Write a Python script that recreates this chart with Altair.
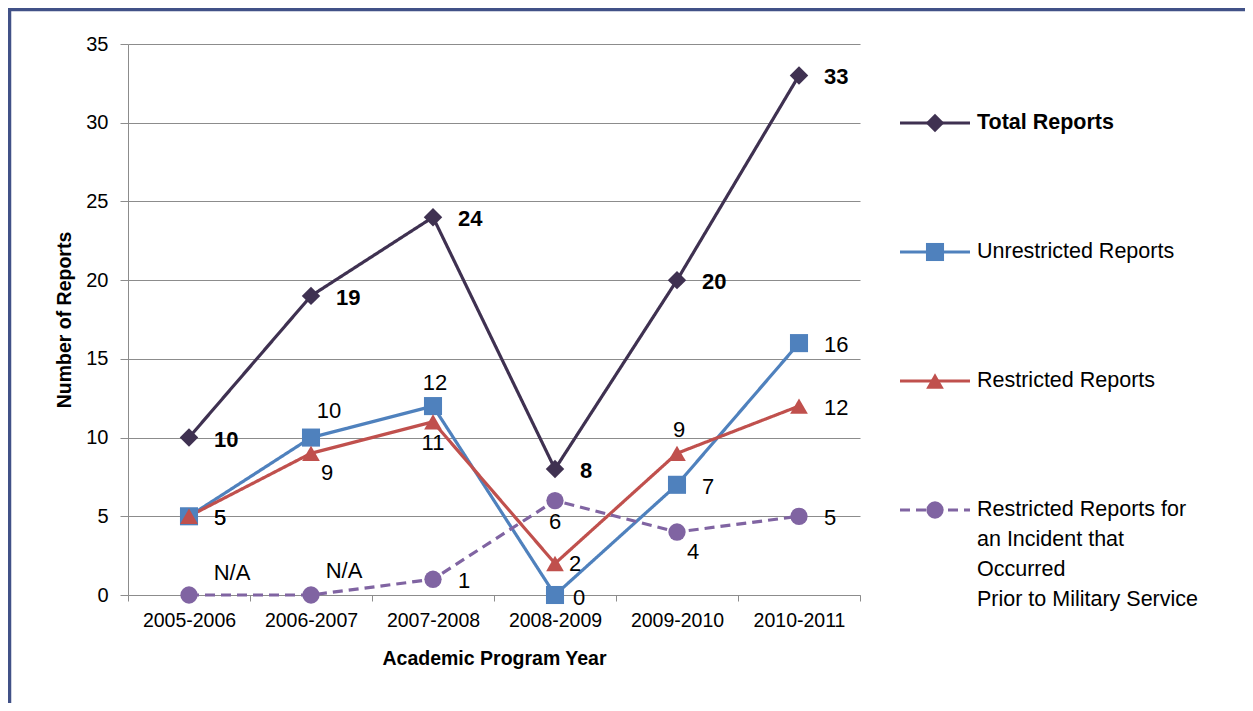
import altair as alt
import pandas as pd

# ---------------- data ----------------
years = ["2005-2006", "2006-2007", "2007-2008", "2008-2009", "2009-2010", "2010-2011"]

series_keys = ["total", "unres", "restr", "prior"]
legend_labels = [
    "Total Reports",
    "Unrestricted Reports",
    "Restricted Reports",
    "Restricted Reports for\nan Incident that\nOccurred\nPrior to Military Service",
]

total_reports = [10, 19, 24, 8, 20, 33]
unrestricted_reports = [5, 10, 12, 0, 7, 16]
restricted_reports = [5, 9, 11, 2, 9, 12]
prior_service_reports = [0, 0, 1, 6, 4, 5]
prior_service_labels = ["N/A", "N/A", "1", "6", "4", "5"]

# label placement names (style, not data)
total_place = ["r", "r", "r", "r", "r", "r"]
unres_place = ["r", "ar", "a", "rb", "r", "r"]
restr_place = ["r", "br", "b", "rt", "a", "r"]
prior_place = ["na1", "na2", "r", "b", "br", "r"]

# ---------------- style ----------------
FONT = "Liberation Sans, Arial, sans-serif"
colors = ["#3F3151", "#4F81BD", "#C0504D", "#8064A2"]
shapes = ["diamond", "square", "triangle-up", "circle"]
sizes = [340, 300, 380, 420]
dashes = [[1, 0], [1, 0], [1, 0], [10, 6]]
FRAME = "#415187"
GRID = "#8C8C8C"
LABEL_SIZE = 22

PLACE = {
    "r": ("left", 25, 2),
    "rt": ("left", 14, 0),
    "rb": ("left", 18, 3),
    "a": ("center", 2, -23),
    "ar": ("center", 18, -27),
    "b": ("center", 0, 21),
    "br": ("center", 16, 20),
    "na1": ("center", 43, -22),
    "na2": ("center", 33, -24),
}

rows = []
for key, vals, labs, places in [
    ("total", total_reports, [str(v) for v in total_reports], total_place),
    ("unres", unrestricted_reports, [str(v) for v in unrestricted_reports], unres_place),
    ("restr", restricted_reports, [str(v) for v in restricted_reports], restr_place),
    ("prior", prior_service_reports, prior_service_labels, prior_place),
]:
    for yr, v, lab, p in zip(years, vals, labs, places):
        rows.append({"year": yr, "series": key, "value": v, "label": lab,
                     "place": p, "bold": 1 if key == "total" else 0})
df = pd.DataFrame(rows)

legend_df = pd.DataFrame({"series": series_keys, "label": legend_labels,
                          "bold": [1, 0, 0, 0]})

color_enc = alt.Color("series:N", scale=alt.Scale(domain=series_keys, range=colors), legend=None)
shape_enc = alt.Shape("series:N", scale=alt.Scale(domain=series_keys, range=shapes), legend=None)
size_enc = alt.Size("series:N", scale=alt.Scale(domain=series_keys, range=sizes), legend=None)
dash_enc = alt.StrokeDash("series:N", scale=alt.Scale(domain=series_keys, range=dashes), legend=None)

x_enc = alt.X(
    "year:N",
    sort=years,
    scale=alt.Scale(type="band", domain=years, paddingInner=0, paddingOuter=0),
    axis=alt.Axis(
        title="Academic Program Year", labelAngle=0, tickBand="extent", tickSize=6,
        labelPadding=10, domainColor=GRID, tickColor=GRID, grid=False,
        labelFont=FONT, labelFontSize=19.5, labelColor="#000",
        titleFont=FONT, titleFontSize=19.5, titleFontWeight="bold", titleColor="#000",
        titlePadding=20,
    ),
)
y_enc = alt.Y(
    "value:Q",
    scale=alt.Scale(domain=[0, 35], nice=False),
    axis=alt.Axis(
        title="Number of Reports", values=[0, 5, 10, 15, 20, 25, 30, 35], grid=True,
        gridColor=GRID, gridWidth=1.2, domainColor=GRID, tickColor=GRID, tickSize=8,
        labelPadding=12, labelFont=FONT, labelFontSize=20, labelColor="#000",
        titleFont=FONT, titleFontSize=19.5, titleFontWeight="bold", titleColor="#000",
        titlePadding=11,
    ),
)

base = alt.Chart(df)

lines = base.mark_line(strokeWidth=3.2).encode(
    x=x_enc, y=y_enc, color=color_enc, strokeDash=dash_enc, detail="series:N",
    order=alt.Order("year:N"),
)
points = base.mark_point(filled=True, opacity=1).encode(
    x=x_enc, y=y_enc, color=color_enc, shape=shape_enc, size=size_enc,
)

text_layers = []
for p, (align, dx, dy) in PLACE.items():
    for b in (0, 1):
        text_layers.append(
            base.transform_filter(f"datum.place == '{p}' && datum.bold == {b}")
            .mark_text(align=align, baseline="middle", dx=dx, dy=dy, font=FONT,
                       fontSize=LABEL_SIZE, fontWeight="bold" if b else "normal", color="#000")
            .encode(x=x_enc, y=y_enc, text="label:N")
        )

main = alt.layer(lines, points, *text_layers)

# ---------------- legend ----------------
lg_base = alt.Chart(legend_df)
lg_y = alt.Y("series:N", sort=series_keys,
             scale=alt.Scale(type="point", domain=series_keys, range=[79, 466], padding=0),
             axis=None)
lg_line = lg_base.mark_rule(strokeWidth=3.2).encode(
    x=alt.value(772), x2=alt.value(842), y=lg_y, color=color_enc, strokeDash=dash_enc
)
lg_point = lg_base.mark_point(filled=True, opacity=1).encode(
    x=alt.value(807), y=lg_y, color=color_enc, shape=shape_enc, size=size_enc
)
lg_text = []
for b in (0, 1):
    lg_text.append(
        lg_base.transform_filter(f"datum.bold == {b}")
        .mark_text(align="left", baseline="line-top", lineHeight=30, dy=-15, lineBreak="\n",
                   font=FONT, fontSize=21.5, fontWeight="bold" if b else "normal", color="#000")
        .encode(x=alt.value(849), y=lg_y, text="label:N")
    )

frame_df = pd.DataFrame({"k": [0]})
frame_left = alt.Chart(frame_df).mark_rule(color=FRAME, strokeWidth=3.5).encode(
    x=alt.value(-118.5), y=alt.value(-40), y2=alt.value(700)
)
frame_top = alt.Chart(frame_df).mark_rule(color=FRAME, strokeWidth=3.5).encode(
    x=alt.value(-125), x2=alt.value(1140), y=alt.value(-34.5)
)

legend = alt.layer(lg_line, lg_point, *lg_text, frame_left, frame_top)

chart = (
    alt.layer(main, legend)
    .resolve_scale(y="independent")
    .properties(
        width=732, height=551,
        autosize=alt.AutoSizeParams(type="none"),
        padding={"left": 120, "top": 36, "right": 385, "bottom": 108},
        background="white",
    )
    .configure_view(stroke=None)
)

chart.save("out.html", embed_options={"renderer": "svg", "actions": False})
